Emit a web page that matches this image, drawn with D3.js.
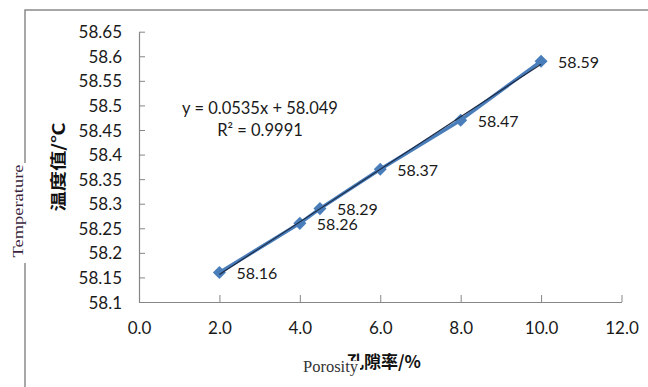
<!DOCTYPE html>
<html>
<head>
<meta charset="utf-8">
<script src="https://cdn.jsdelivr.net/npm/d3@7"></script>
<style>
  html, body { margin: 0; padding: 0; background: #fff; }
  svg { display: block; }
</style>
</head>
<body>
<svg id="chart" width="648" height="387"></svg>
<script>
// Porosity (%) vs. temperature (°C)
const porosity = [2, 4, 4.5, 6, 8, 10];
const temperature = [58.16, 58.26, 58.29, 58.37, 58.47, 58.59];

// Linear trendline fit
const slope = 0.0535;
const intercept = 58.049;
const rSquared = 0.9991;

const xTicks = [0, 2, 4, 6, 8, 10, 12];
const xTickLabels = ["0.0", "2.0", "4.0", "6.0", "8.0", "10.0", "12.0"];
const yTicks = [58.1, 58.15, 58.2, 58.25, 58.3, 58.35, 58.4, 58.45, 58.5, 58.55, 58.6, 58.65];
const yTickLabels = ["58.1", "58.15", "58.2", "58.25", "58.3", "58.35", "58.4", "58.45", "58.5", "58.55", "58.6", "58.65"];

const svg = d3.select("#chart");
const uiFont = "Lato, 'Open Sans', sans-serif";
const axisColor = "#868686";

const x = d3.scaleLinear().domain([0, 12]).range([139, 621.5]);
const y = d3.scaleLinear().domain([58.1, 58.65]).range([302, 31.7]);

// Outer frame (broken where the English y caption sits)
svg.append("path")
  .attr("d", "M25,387 V263 M25,163 V10 H648")
  .attr("fill", "none")
  .attr("stroke", "#8a8a8a")
  .attr("stroke-width", 1.5);

// Y axis
const yAxis = svg.append("g")
  .attr("transform", `translate(${x(0)},0)`)
  .call(d3.axisLeft(y)
    .tickValues(yTicks)
    .tickFormat((d, i) => yTickLabels[i])
    .tickSizeInner(-6)
    .tickSizeOuter(0)
    .tickPadding(17));

// X axis
const xAxis = svg.append("g")
  .attr("transform", `translate(0,${y(58.1)})`)
  .call(d3.axisBottom(x)
    .tickValues(xTicks)
    .tickFormat((d, i) => xTickLabels[i])
    .tickSizeInner(-7)
    .tickSizeOuter(0)
    .tickPadding(20));

[yAxis, xAxis].forEach(g => {
  g.select(".domain").attr("stroke", axisColor).attr("stroke-width", 1.2);
  g.selectAll(".tick line").attr("stroke", axisColor).attr("stroke-width", 1);
  g.selectAll(".tick text")
    .attr("fill", "#1a1a1a")
    .style("font-family", uiFont)
    .style("font-size", "17px");
});
yAxis.selectAll(".tick text").attr("dy", "0.36em");

// Series line
const line = d3.line().x((d, i) => x(porosity[i])).y(d => y(d));
svg.append("path")
  .datum(temperature)
  .attr("d", line)
  .attr("fill", "none")
  .attr("stroke", "#4a7ebb")
  .attr("stroke-width", 3.5)
  .attr("stroke-linejoin", "round");

// Markers
const diamond = d3.symbol().type(d3.symbolSquare).size(85);
svg.append("g").selectAll("path")
  .data(temperature)
  .join("path")
  .attr("d", diamond)
  .attr("transform", (d, i) => `translate(${x(porosity[i])},${y(d)}) rotate(45)`)
  .attr("fill", "#4a7ebb");

// Trendline
const x0 = d3.min(porosity), x1 = d3.max(porosity);
svg.append("line")
  .attr("x1", x(x0)).attr("y1", y(slope * x0 + intercept))
  .attr("x2", x(x1)).attr("y2", y(slope * x1 + intercept))
  .attr("stroke", "#1c2b45")
  .attr("stroke-width", 1.2);

// Data labels
svg.append("g").selectAll("text")
  .data(temperature)
  .join("text")
  .attr("x", (d, i) => x(porosity[i]) + 17)
  .attr("y", d => y(d) + 1)
  .attr("dy", "0.36em")
  .attr("fill", "#1a1a1a")
  .style("font-family", uiFont)
  .style("font-size", "16px")
  .text(d => d.toFixed(2));

// Trendline equation
const eq = svg.append("text")
  .attr("text-anchor", "middle")
  .attr("fill", "#1a1a1a")
  .style("font-family", uiFont)
  .style("font-size", "16.5px");
eq.append("tspan").attr("x", 260).attr("y", 114)
  .text(`y = ${slope}x + ${intercept}`);
eq.append("tspan").attr("x", 260).attr("y", 136)
  .text(`R² = ${rSquared}`);

// Y caption (Chinese)
svg.append("text")
  .attr("transform", "translate(64,167) rotate(-90)")
  .attr("text-anchor", "middle")
  .attr("textLength", 89)
  .attr("lengthAdjust", "spacingAndGlyphs")
  .attr("fill", "#111")
  .style("font-family", "'Noto Sans CJK SC', sans-serif")
  .style("font-weight", "bold")
  .style("font-size", "16px")
  .text("温度值/℃");

// English y caption on a white box
svg.append("rect")
  .attr("x", 9).attr("y", 164).attr("width", 22).attr("height", 98)
  .attr("fill", "#fff");
svg.append("text")
  .attr("transform", "translate(23,211) rotate(-90)")
  .attr("text-anchor", "middle")
  .attr("textLength", 93)
  .attr("lengthAdjust", "spacingAndGlyphs")
  .attr("fill", "#3b1f3d")
  .style("font-family", "'Liberation Serif', serif")
  .style("font-size", "15px")
  .text("Temperature");

// X caption (Chinese)
svg.append("text")
  .attr("x", 384)
  .attr("y", 368)
  .attr("text-anchor", "middle")
  .attr("fill", "#111")
  .style("font-family", "'Noto Sans CJK SC', sans-serif")
  .style("font-weight", "bold")
  .style("font-size", "17px")
  .text("孔隙率/%");

// English x caption on a white box
svg.append("rect")
  .attr("x", 300).attr("y", 361).attr("width", 60).attr("height", 18)
  .attr("fill", "#fff");
svg.append("text")
  .attr("x", 303)
  .attr("y", 372)
  .attr("textLength", 55)
  .attr("lengthAdjust", "spacingAndGlyphs")
  .attr("fill", "#333")
  .style("font-family", "'Liberation Serif', serif")
  .style("font-size", "16px")
  .text("Porosity");
</script>
</body>
</html>
